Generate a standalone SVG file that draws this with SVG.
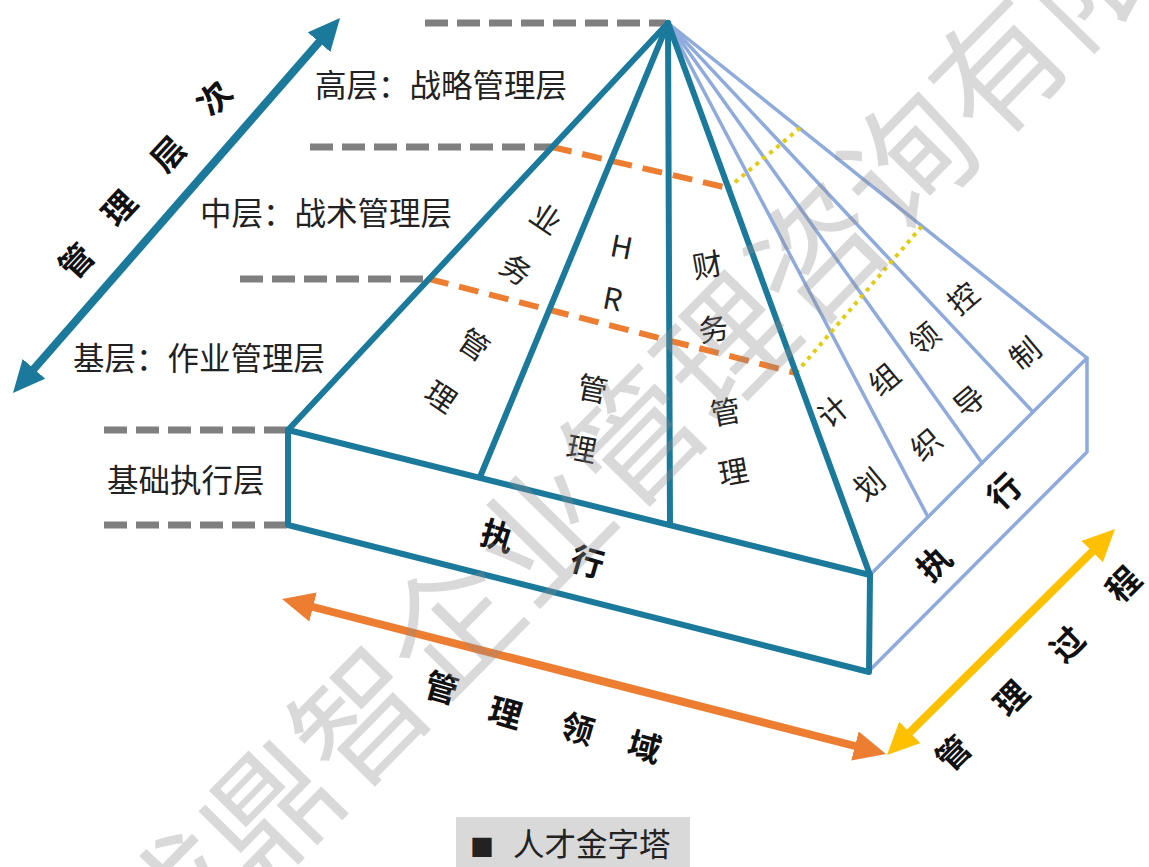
<svg xmlns="http://www.w3.org/2000/svg" width="1149" height="867" viewBox="0 0 1149 867">
<defs>
<style>
.t{font-family:"Noto Sans CJK SC","Noto Sans",sans-serif;fill:#222}
.lbl{font-size:31.5px}
.in{font-size:30px;text-anchor:middle;dominant-baseline:central}
.b{font-size:33px;font-weight:bold;text-anchor:middle;dominant-baseline:central;fill:#111}
.teal{stroke:#1B7A9B;stroke-width:6;fill:none;stroke-linejoin:round;stroke-linecap:round}
.lb{stroke:#8FAADC;stroke-width:3.5;fill:none;stroke-linejoin:round;stroke-linecap:round}
.gd{stroke:#7F7F7F;stroke-width:7;stroke-dasharray:23 9;fill:none}
.od{stroke:#ED7D31;stroke-width:6;stroke-dasharray:20 11;fill:none}
.yd{stroke:#E2CC12;stroke-width:4;stroke-dasharray:4 5;fill:none}
.arr{stroke-width:8;fill:none}
.wm{font-family:"Noto Sans CJK SC",sans-serif;font-size:130px;fill:#8c8c8c;fill-opacity:0.33;text-anchor:middle;dominant-baseline:central}
</style>
<marker id="mT" markerUnits="userSpaceOnUse" markerWidth="32" markerHeight="30" refX="12" refY="15" orient="auto-start-reverse" viewBox="0 0 32 30"><path d="M0,0L32,15L0,30z" fill="#1B7A9B"/></marker>
<marker id="mO" markerUnits="userSpaceOnUse" markerWidth="32" markerHeight="30" refX="12" refY="15" orient="auto-start-reverse" viewBox="0 0 32 30"><path d="M0,0L32,15L0,30z" fill="#ED7D31"/></marker>
<marker id="mY" markerUnits="userSpaceOnUse" markerWidth="32" markerHeight="30" refX="12" refY="15" orient="auto-start-reverse" viewBox="0 0 32 30"><path d="M0,0L32,15L0,30z" fill="#FFC000"/></marker>
</defs>
<rect width="1149" height="867" fill="#fff"/>

<g id="level-guides">
<line class="gd" x1="425" y1="23" x2="666" y2="23"/>
<line class="gd" x1="310" y1="147" x2="552" y2="147"/>
<line class="gd" x1="240" y1="279" x2="429" y2="279"/>
<line class="gd" x1="104" y1="430" x2="288" y2="430"/>
<line class="gd" x1="104" y1="525" x2="288" y2="525"/>
</g>

<g id="pyramid">
<polygon points="288,430 870,575 869,672 288,525" fill="#fff"/>
<polygon points="870,575 1087,358 1087,452 868,672" fill="#fff"/>
<polygon points="668,23 288,430 870,575 1087,358" fill="#fff"/>
<g id="process-lines">
<polyline class="lb" points="870,575 1087,358 1087,452 868,672"/>
<line class="lb" x1="668" y1="23" x2="928" y2="517"/>
<line class="lb" x1="668" y1="23" x2="982" y2="463"/>
<line class="lb" x1="668" y1="23" x2="1033" y2="412"/>
<line class="lb" x1="668" y1="23" x2="1087" y2="358"/>
</g>
<g id="layer-boundaries">
<line class="od" x1="552" y1="147" x2="728" y2="188"/>
<line class="yd" x1="728" y1="188" x2="800" y2="128"/>
<line class="od" x1="429" y1="279" x2="796" y2="373"/>
<line class="yd" x1="796" y1="373" x2="922" y2="226"/>
</g>
<g id="domain-lines">
<polygon class="teal" points="288,430 870,575 869,672 288,525"/>
<line class="teal" x1="668" y1="23" x2="288" y2="430"/>
<line class="teal" x1="668" y1="23" x2="480" y2="477"/>
<line class="teal" x1="668" y1="23" x2="670" y2="525"/>
<line class="teal" x1="668" y1="23" x2="870" y2="575"/>
</g>
</g>

<g id="level-labels" class="t lbl">
<text x="315" y="97">高层：战略管理层</text>
<text x="200" y="225">中层：战术管理层</text>
<text x="73" y="370">基层：作业管理层</text>
<text x="107" y="492">基础执行层</text>
</g>

<g id="node-business" class="t in">
<text transform="translate(547,217) rotate(34)">业</text>
<text transform="translate(517,268) rotate(34)">务</text>
<text transform="translate(475,343) rotate(34)">管</text>
<text transform="translate(442,395) rotate(34)">理</text>
</g>
<g id="node-hr" class="t in">
<text transform="translate(622,245) rotate(11)">H</text>
<text transform="translate(613,297) rotate(11)">R</text>
<text transform="translate(593,387) rotate(11)">管</text>
<text transform="translate(582,447) rotate(11)">理</text>
</g>
<g id="node-finance" class="t in">
<text transform="translate(707,263) rotate(-10)">财</text>
<text transform="translate(713,327) rotate(-10)">务</text>
<text transform="translate(725,410) rotate(-10)">管</text>
<text transform="translate(733,470) rotate(-10)">理</text>
</g>
<g id="node-plan" class="t in">
<text transform="translate(832,410) rotate(-40)">计</text>
<text transform="translate(868,483) rotate(-40)">划</text>
</g>
<g id="node-organize" class="t in">
<text transform="translate(883,378) rotate(-40)">组</text>
<text transform="translate(925,443) rotate(-40)">织</text>
</g>
<g id="node-lead" class="t in">
<text transform="translate(923,337) rotate(-40)">领</text>
<text transform="translate(968,400) rotate(-40)">导</text>
</g>
<g id="node-control" class="t in">
<text transform="translate(962,297) rotate(-40)">控</text>
<text transform="translate(1024,352) rotate(-40)">制</text>
</g>
<g id="node-exec-front" class="t b">
<text transform="translate(498,534) rotate(16)">执</text>
<text transform="translate(588,560) rotate(16)">行</text>
</g>
<g id="node-exec-side" class="t b">
<text transform="translate(933,562) rotate(-44)">执</text>
<text transform="translate(1003,490) rotate(-44)">行</text>
</g>

<g id="connectors">
<line class="arr" stroke="#1B7A9B" x1="26.1" y1="377.9" x2="326.9" y2="33.1" marker-start="url(#mT)" marker-end="url(#mT)"/>
<line class="arr" stroke="#ED7D31" x1="301.4" y1="604" x2="866.6" y2="749" marker-start="url(#mO)" marker-end="url(#mO)"/>
<line class="arr" stroke="#FFC000" x1="901.2" y1="740.9" x2="1100.8" y2="543.1" marker-start="url(#mY)" marker-end="url(#mY)"/>
</g>

<g id="axis-level" class="t b">
<text transform="translate(75,260) rotate(-47)">管</text>
<text transform="translate(118,207) rotate(-47)">理</text>
<text transform="translate(167,153) rotate(-47)">层</text>
<text transform="translate(213,97) rotate(-47)">次</text>
</g>
<g id="axis-domain" class="t b">
<text transform="translate(442,686) rotate(16)">管</text>
<text transform="translate(506,711) rotate(16)">理</text>
<text transform="translate(578,727) rotate(16)">领</text>
<text transform="translate(645,745) rotate(16)">域</text>
</g>
<g id="axis-process" class="t b">
<text transform="translate(952,752) rotate(-45)">管</text>
<text transform="translate(1010,697) rotate(-45)">理</text>
<text transform="translate(1066,643) rotate(-45)">过</text>
<text transform="translate(1122,583) rotate(-45)">程</text>
</g>

<g id="legend">
<rect x="456" y="817" width="234" height="50" fill="#d9d9d9"/>
<text class="t" x="470" y="856" style="font-size:24px">■</text>
<text class="t lbl" x="513" y="856">人才金字塔</text>
</g>

<text class="wm" transform="translate(628,433) rotate(-45.5)">成鼎智企业管理咨询有限</text>
</svg>
